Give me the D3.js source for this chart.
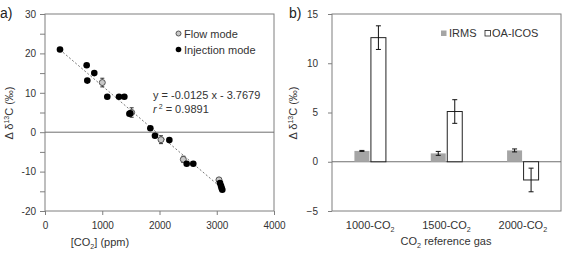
<!DOCTYPE html>
<html>
<head>
<meta charset="utf-8">
<script src="https://cdn.jsdelivr.net/npm/d3@7"></script>
<style>
  body { margin: 0; background: #fff; }
  svg { display: block; font-family: "Liberation Sans", Arial, sans-serif; }
  .tick text { font-size: 10px; fill: #333; }
  .tick line { stroke: #7f7f7f; }
</style>
</head>
<body>
<svg width="564" height="254"></svg>
<script>
// panel a: injection / flow mode offsets vs CO2
var injX = [262, 728, 739, 861, 1088, 1293, 1386, 1474, 1490, 1840, 1921, 2172, 2475, 2590, 3057, 3074, 3086, 3097];
var injY = [21.0, 17.0, 13.1, 15.0, 9.0, 9.0, 9.0, 4.7, 4.8, 1.0, -0.9, -2.0, -8.0, -8.0, -12.9, -13.6, -14.2, -14.6];
var flowX = [1001, 1514, 2026, 2416, 3039];
var flowY = [12.6, 5.0, -1.9, -6.9, -12.1];
var flowErr = [1.1, 1.2, 1.0, 0.8, 0.5];
var xTicksA = [0, 1000, 2000, 3000, 4000];
var yTicksA = [-20, -15, -10, -5, 0, 5, 10, 15, 20, 25, 30];

// panel b: reference gases
var gases = ["1000", "1500", "2000"];
var irms = [1.1, 0.85, 1.15];
var irmsErr = [0.05, 0.2, 0.15];
var oaicos = [12.6, 5.1, -1.85];
var oaicosErr = [1.2, 1.2, 1.2];
var yTicksB = [-5, 0, 5, 10, 15];

var svg = d3.select("svg");
var axisColor = "#7f7f7f", textColor = "#333";

function box(g, x0, x1, y0, y1) {
  g.append("rect")
      .attr("x", x0).attr("y", y0)
      .attr("width", x1 - x0).attr("height", y1 - y0)
      .attr("fill", "none").attr("stroke", axisColor);
}

function co2Label(sel, prefix, suffix, size) {
  sel.append("tspan").text(prefix + "CO");
  sel.append("tspan").text("2").attr("font-size", size * 0.65).attr("dy", 3);
  sel.append("tspan").text(suffix).attr("dy", -3);
}

// ---------- panel a ----------
var x = d3.scaleLinear().domain([0, 4000]).range([45, 274]);
var y = d3.scaleLinear().domain([-20, 30]).range([211, 14]);
var ga = svg.append("g");

ga.append("g")
    .attr("transform", "translate(0,211)")
    .call(d3.axisBottom(x).tickValues(xTicksA).tickSize(4).tickPadding(7).tickFormat(d3.format("d")))
    .call(function(g) { g.select(".domain").remove(); });

ga.append("g")
    .attr("transform", "translate(45,0)")
    .call(d3.axisLeft(y).tickValues(yTicksA).tickSize(5).tickPadding(4)
      .tickFormat(function(d) { return d % 10 === 0 ? d : ""; }))
    .call(function(g) { g.select(".domain").remove(); });

box(ga, 45, 274, 14, 211);

ga.append("line")
    .attr("x1", x(0)).attr("x2", x(4000))
    .attr("y1", y(0)).attr("y2", y(0))
    .attr("stroke", "#6f6f6f");

// least squares fit over all points
var allX = injX.concat(flowX), allY = injY.concat(flowY);
var mx = d3.mean(allX), my = d3.mean(allY);
var slope = d3.sum(allX, function(v, i) { return (v - mx) * (allY[i] - my); }) /
            d3.sum(allX, function(v) { return (v - mx) * (v - mx); });
var icpt = my - slope * mx;
var xMin = d3.min(allX), xMax = d3.max(allX);
ga.append("line")
    .attr("x1", x(xMin)).attr("y1", y(icpt + slope * xMin))
    .attr("x2", x(xMax)).attr("y2", y(icpt + slope * xMax))
    .attr("stroke", "#777").attr("stroke-width", 1)
    .attr("stroke-dasharray", "2,2");

var flow = flowX.map(function(v, i) { return {x: v, y: flowY[i], e: flowErr[i]}; });
var ferr = ga.selectAll(".ferr").data(flow).enter().append("g").attr("class", "ferr");
ferr.append("line")
    .attr("x1", function(d) { return x(d.x); }).attr("x2", function(d) { return x(d.x); })
    .attr("y1", function(d) { return y(d.y - d.e); }).attr("y2", function(d) { return y(d.y + d.e); })
    .attr("stroke", "#333");
[-1, 1].forEach(function(s) {
  ferr.append("line")
      .attr("x1", function(d) { return x(d.x) - 2; }).attr("x2", function(d) { return x(d.x) + 2; })
      .attr("y1", function(d) { return y(d.y + s * d.e); }).attr("y2", function(d) { return y(d.y + s * d.e); })
      .attr("stroke", "#333");
});
ga.selectAll(".flow").data(flow).enter().append("circle")
    .attr("cx", function(d) { return x(d.x); })
    .attr("cy", function(d) { return y(d.y); })
    .attr("r", 3)
    .attr("fill", "#c8c8c8").attr("stroke", "#555").attr("stroke-width", 1);

ga.selectAll(".inj").data(injX).enter().append("circle")
    .attr("cx", function(d) { return x(d); })
    .attr("cy", function(d, i) { return y(injY[i]); })
    .attr("r", 3.3)
    .attr("fill", "#000");

// legend a
ga.append("circle").attr("cx", 178.5).attr("cy", 33.5).attr("r", 2.5)
    .attr("fill", "#c8c8c8").attr("stroke", "#555");
ga.append("circle").attr("cx", 178.5).attr("cy", 49.5).attr("r", 2.8).attr("fill", "#000");
ga.append("text").attr("x", 184).attr("y", 37.5).attr("font-size", 11).attr("fill", textColor).text("Flow mode");
ga.append("text").attr("x", 184).attr("y", 53.5).attr("font-size", 11).attr("fill", textColor).text("Injection mode");

// equation
ga.append("text").attr("x", 153).attr("y", 99).attr("font-size", 11).attr("fill", textColor)
    .text("y = -0.0125 x - 3.7679");
var r2 = ga.append("text").attr("x", 153).attr("y", 113).attr("font-size", 11).attr("fill", textColor);
r2.append("tspan").attr("font-style", "italic").text("r");
r2.append("tspan").attr("font-size", 7).attr("dx", 2).attr("dy", -4).text("2");
r2.append("tspan").attr("dy", 4).text(" = 0.9891");

// axis titles a
co2Label(ga.append("text").attr("x", 100).attr("y", 246).attr("text-anchor", "middle")
    .attr("font-size", 11).attr("fill", textColor), "[", "] (ppm)", 11);

function deltaTitle(g, cx, cy) {
  var t = g.append("text")
      .attr("transform", "translate(" + cx + "," + cy + ") rotate(-90)")
      .attr("text-anchor", "middle").attr("font-size", 11).attr("fill", textColor);
  t.append("tspan").text("\u0394 \u03b4");
  t.append("tspan").attr("font-size", 7).attr("dy", -4).text("13");
  t.append("tspan").attr("dy", 4).text("C (\u2030)");
}
deltaTitle(ga, 13, 113);

svg.append("text").attr("x", 0).attr("y", 18).attr("font-size", 14).attr("fill", "#222").text("a)");

// ---------- panel b ----------
var xb = d3.scaleBand().domain(gases).range([332, 561]);
var yb = d3.scaleLinear().domain([-5, 15]).range([211, 14]);
var gb = svg.append("g");
var bw = 15, gap = 1.5;

gb.append("g")
    .attr("transform", "translate(332,0)")
    .call(d3.axisLeft(yb).tickValues(yTicksB).tickSize(4).tickPadding(10))
    .call(function(g) { g.select(".domain").remove(); });

box(gb, 332, 561, 14, 211);

gb.append("line")
    .attr("x1", 332).attr("x2", 561)
    .attr("y1", yb(0)).attr("y2", yb(0))
    .attr("stroke", "#6f6f6f");

var bars = gases.map(function(g, i) {
  return {g: g, irms: irms[i], ie: irmsErr[i], oa: oaicos[i], oe: oaicosErr[i]};
});

function cx(d) { return xb(d.g) + xb.bandwidth() / 2; }

gb.selectAll(".irms").data(bars).enter().append("rect")
    .attr("x", function(d) { return cx(d) - gap / 2 - bw; })
    .attr("y", function(d) { return yb(Math.max(0, d.irms)); })
    .attr("width", bw)
    .attr("height", function(d) { return Math.abs(yb(d.irms) - yb(0)); })
    .attr("fill", "#a5a5a5");

gb.selectAll(".oa").data(bars).enter().append("rect")
    .attr("x", function(d) { return cx(d) + gap / 2; })
    .attr("y", function(d) { return yb(Math.max(0, d.oa)); })
    .attr("width", bw)
    .attr("height", function(d) { return Math.abs(yb(d.oa) - yb(0)); })
    .attr("fill", "#fff").attr("stroke", "#222");

function errBar(g, xc, v, e, cap) {
  g.append("line").attr("x1", xc).attr("x2", xc)
      .attr("y1", yb(v - e)).attr("y2", yb(v + e)).attr("stroke", "#111");
  [v - e, v + e].forEach(function(t) {
    g.append("line").attr("x1", xc - cap).attr("x2", xc + cap)
        .attr("y1", yb(t)).attr("y2", yb(t)).attr("stroke", "#111");
  });
}
bars.forEach(function(d) {
  errBar(gb, cx(d) - gap / 2 - bw / 2, d.irms, d.ie, 2.5);
  errBar(gb, cx(d) + gap / 2 + bw / 2, d.oa, d.oe, 2.5);
});

// category labels
bars.forEach(function(d) {
  co2Label(gb.append("text").attr("x", cx(d)).attr("y", 229).attr("text-anchor", "middle")
      .attr("font-size", 11).attr("fill", textColor), d.g + "-", "", 11);
});
co2Label(gb.append("text").attr("x", 446).attr("y", 245).attr("text-anchor", "middle")
    .attr("font-size", 11).attr("fill", textColor), "", " reference gas", 11);

deltaTitle(gb, 297, 113);

// legend b
gb.append("rect").attr("x", 441).attr("y", 30.5).attr("width", 5.5).attr("height", 5.5).attr("fill", "#a5a5a5");
gb.append("text").attr("x", 449).attr("y", 36.5).attr("font-size", 11).attr("fill", textColor).text("IRMS");
gb.append("rect").attr("x", 485).attr("y", 30.5).attr("width", 5.5).attr("height", 5.5)
    .attr("fill", "#fff").attr("stroke", "#222").attr("stroke-width", 0.8);
gb.append("text").attr("x", 492).attr("y", 36.5).attr("font-size", 11).attr("fill", textColor).text("OA-ICOS");

svg.append("text").attr("x", 289).attr("y", 18).attr("font-size", 14).attr("fill", "#222").text("b)");
</script>
</body>
</html>
